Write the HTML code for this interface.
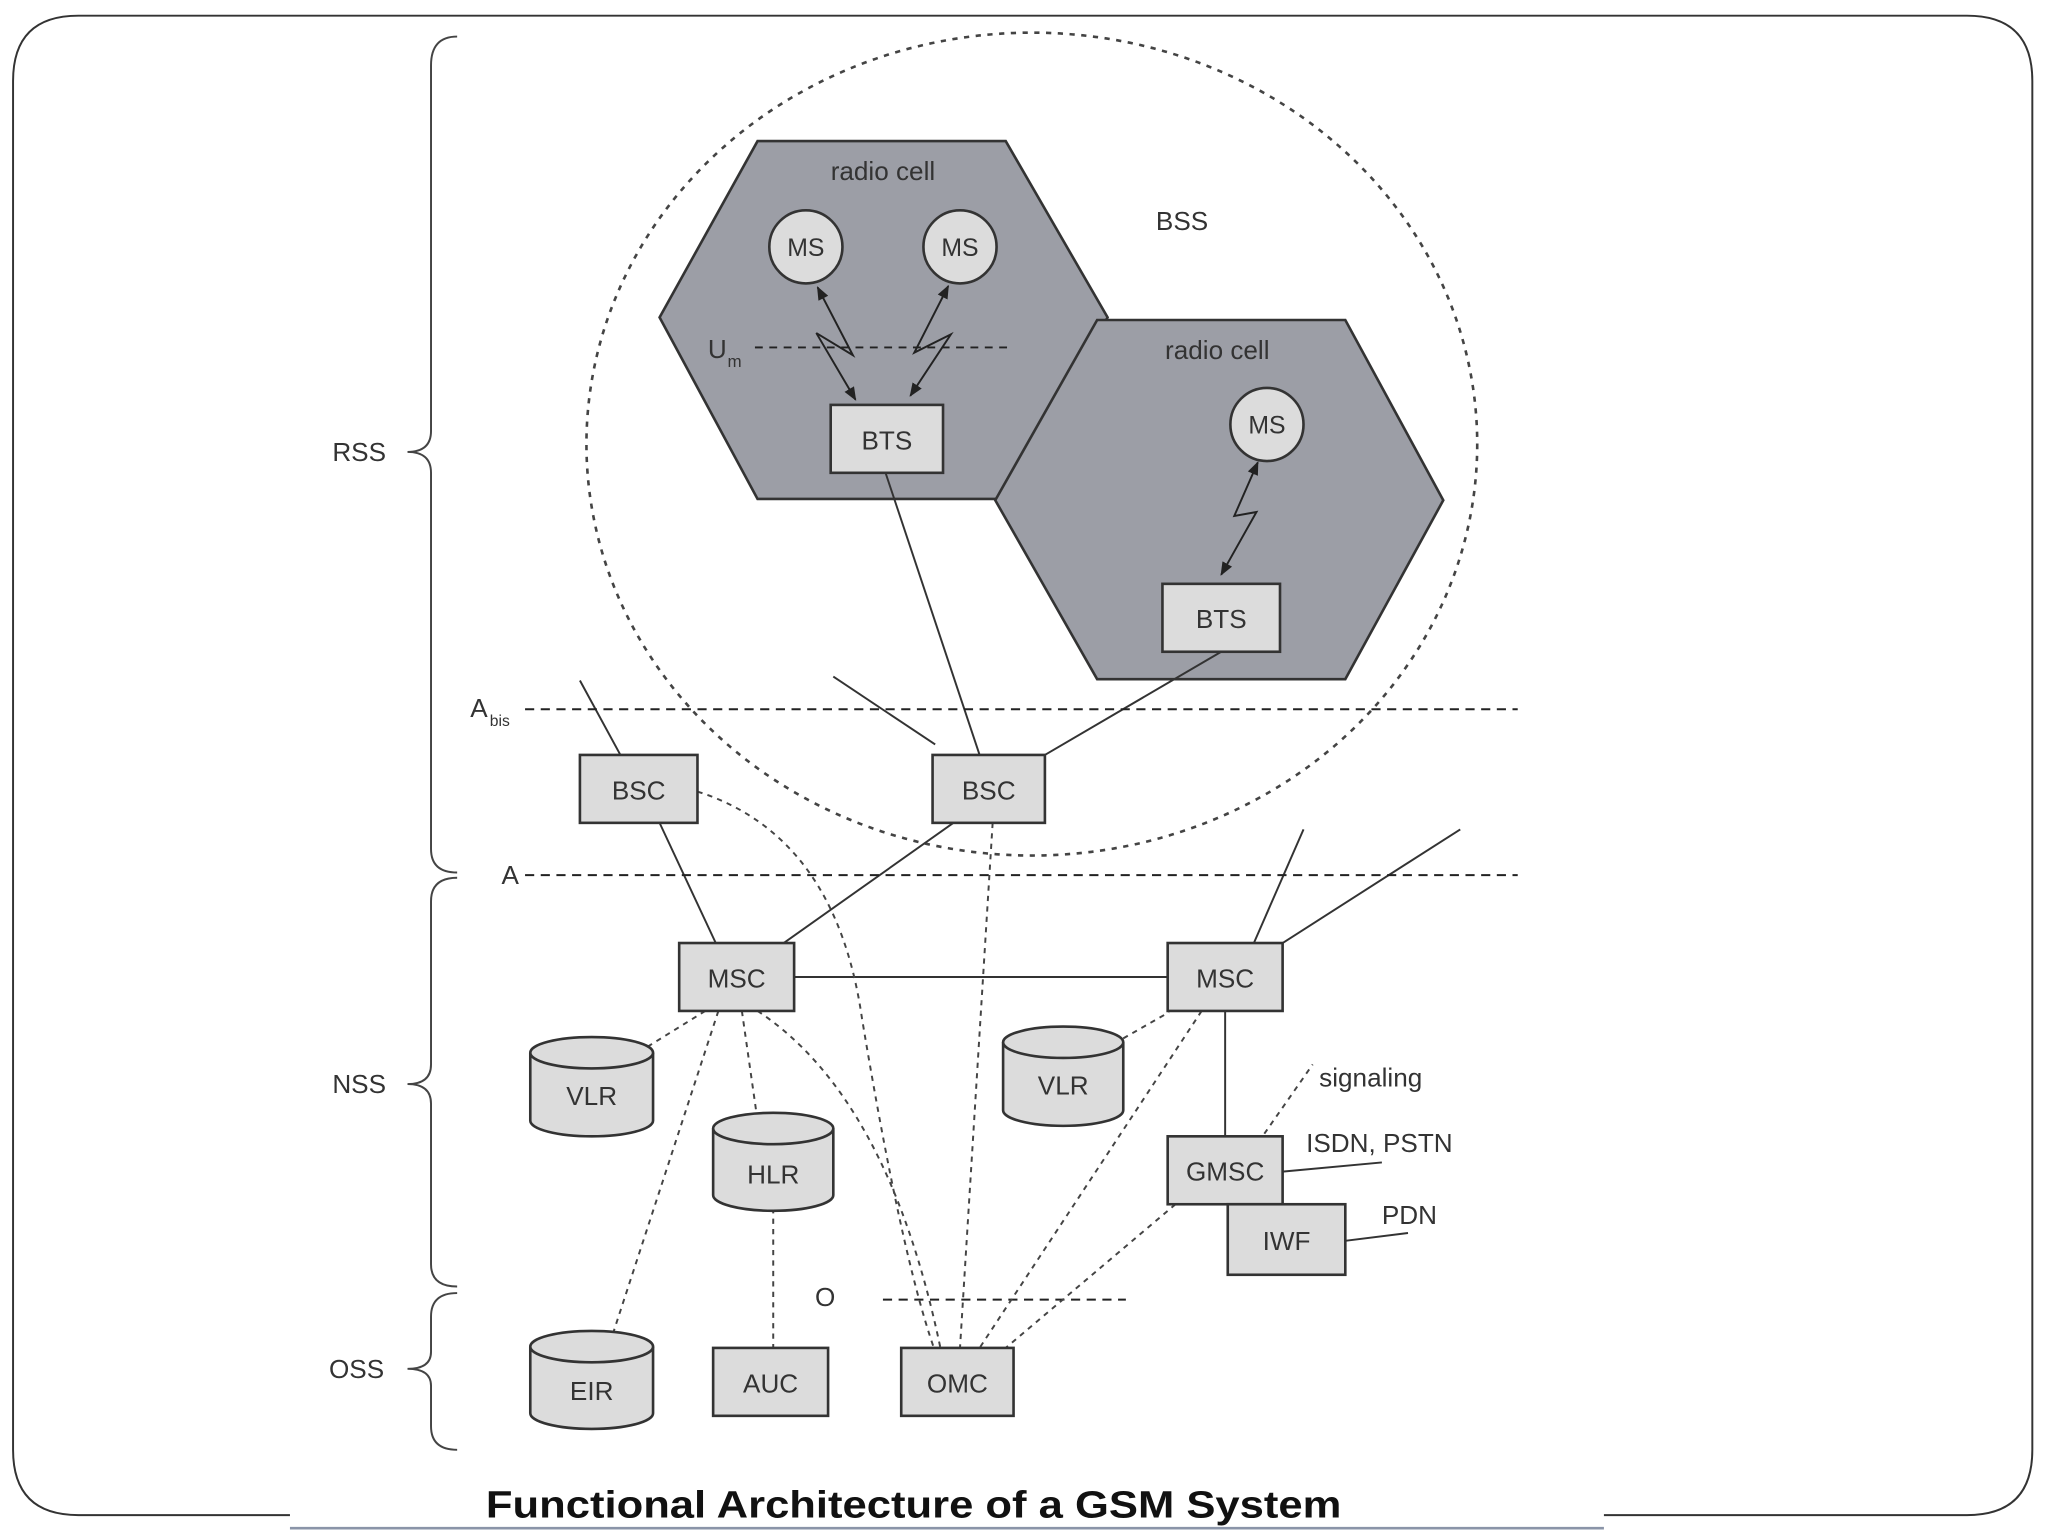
<!DOCTYPE html>
<html><head><meta charset="utf-8"><style>
html,body{margin:0;padding:0;background:#fff;width:2048px;height:1536px;overflow:hidden}
svg{display:block}
text{font-family:"Liberation Sans",sans-serif;fill:#333}
</style></head><body>
<svg width="2048" height="1536" viewBox="0 0 1568 1176" preserveAspectRatio="none" xmlns="http://www.w3.org/2000/svg">
<defs>
<marker id="ar" viewBox="0 0 10 10" refX="9" refY="5" markerWidth="7" markerHeight="7" orient="auto-start-reverse"><path d="M0,1 L10,5 L0,9 z" fill="#222"/></marker>
</defs>
<path d="M222,1160 L60,1160 Q10,1160 10,1110 L10,62 Q10,12 60,12 L1506,12 Q1556,12 1556,62 L1556,1110 Q1556,1160 1506,1160 L1228,1160" fill="none" stroke="#333" stroke-width="1.5"/>
<line x1="222" y1="1170" x2="1228" y2="1170" stroke="#8a94a8" stroke-width="2"/>
<text x="372" y="1162" font-size="29" font-weight="bold" textLength="655" lengthAdjust="spacingAndGlyphs" style="fill:#111">Functional Architecture of a GSM System</text>

<g fill="none" stroke="#444" stroke-width="1.5">
<path d="M350,28 Q330,28 330,50 L330,330 Q330,346 312,346 Q330,346 330,362 L330,650 Q330,668 350,668"/>
<path d="M350,672 Q330,672 330,690 L330,815 Q330,830 312,830 Q330,830 330,845 L330,968 Q330,985 350,985"/>
<path d="M350,990 Q330,990 330,1008 L330,1035 Q330,1048 312,1048 Q330,1048 330,1061 L330,1092 Q330,1110 350,1110"/>
</g>
<g font-size="20">
<text x="275" y="353" text-anchor="middle">RSS</text>
<text x="275" y="837" text-anchor="middle">NSS</text>
<text x="273" y="1055" text-anchor="middle">OSS</text>
</g>

<ellipse cx="790" cy="340" rx="341" ry="315" fill="none" stroke="#444" stroke-width="2" stroke-dasharray="4,5"/>

<polygon points="505,243 580,108 770,108 848,243 770,382 580,382" fill="#9c9ea6" stroke="#333" stroke-width="2"/>
<polygon points="762,383 840,245 1030,245 1105,383 1030,520 840,520" fill="#9c9ea6" stroke="#333" stroke-width="2"/>
<g font-size="20">
<text x="676" y="138" text-anchor="middle">radio cell</text>
<text x="932" y="275" text-anchor="middle">radio cell</text>
<text x="905" y="176" text-anchor="middle">BSS</text>
</g>

<g fill="#dcdcdc" stroke="#333" stroke-width="2">
<circle cx="617" cy="189" r="28"/>
<circle cx="735" cy="189" r="28"/>
<circle cx="970" cy="325" r="28"/>
</g>
<g font-size="19" text-anchor="middle">
<text x="617" y="196">MS</text>
<text x="735" y="196">MS</text>
<text x="970" y="332">MS</text>
</g>

<line x1="578" y1="266" x2="776" y2="266" stroke="#222" stroke-width="1.5" stroke-dasharray="6,5"/>
<text x="542" y="274" font-size="20">U</text><text x="557" y="281" font-size="13">m</text>

<g fill="none" stroke="#222" stroke-width="1.5">
<polyline points="626,220 653,272 625,255 655,306" marker-start="url(#ar)" marker-end="url(#ar)"/>
<polyline points="726,219 700,270 728,256 697,303" marker-start="url(#ar)" marker-end="url(#ar)"/>
<polyline points="963,354 945,395 962,392 935,440" marker-start="url(#ar)" marker-end="url(#ar)"/>
</g>

<g stroke="#333" stroke-width="1.5" fill="none">
<line x1="678" y1="362" x2="750" y2="578"/>
<line x1="935" y1="499" x2="800" y2="578"/>
<line x1="638" y1="518" x2="716" y2="570"/>
<line x1="444" y1="521" x2="475" y2="578"/>
<line x1="505" y1="630" x2="548" y2="722"/>
<line x1="730" y1="630" x2="600" y2="722"/>
<line x1="608" y1="748" x2="894" y2="748"/>
<line x1="960" y1="722" x2="998" y2="635"/>
<line x1="982" y1="722" x2="1118" y2="635"/>
<line x1="938" y1="774" x2="938" y2="870"/>
<line x1="982" y1="897" x2="1058" y2="890"/>
<line x1="1030" y1="950" x2="1078" y2="944"/>
</g>

<g stroke="#222" stroke-width="1.5" stroke-dasharray="7,5">
<line x1="402" y1="543" x2="1162" y2="543"/>
<line x1="402" y1="670" x2="1162" y2="670"/>
<line x1="676" y1="995" x2="862" y2="995"/>
</g>
<text x="360" y="549" font-size="20">A</text><text x="375" y="556" font-size="12">bis</text>
<text x="384" y="677" font-size="20">A</text>
<text x="624" y="1000" font-size="20">O</text>

<g stroke="#444" stroke-width="1.5" fill="none" stroke-dasharray="4,4">
<path d="M534,606 Q640,640 660,780 Q690,960 715,1032"/>
<path d="M580,774 Q680,840 720,1032"/>
<line x1="760" y1="630" x2="735" y2="1032"/>
<line x1="920" y1="774" x2="750" y2="1032"/>
<line x1="900" y1="922" x2="770" y2="1032"/>
<line x1="540" y1="774" x2="490" y2="805"/>
<line x1="550" y1="774" x2="468" y2="1025"/>
<line x1="568" y1="774" x2="580" y2="858"/>
<line x1="592" y1="925" x2="592" y2="1032"/>
<line x1="860" y1="795" x2="895" y2="775"/>
<line x1="968" y1="868" x2="1005" y2="815"/>
</g>
<g font-size="20">
<text x="1010" y="832">signaling</text>
<text x="1000" y="882">ISDN, PSTN</text>
<text x="1058" y="937">PDN</text>
</g>

<g fill="#dcdcdc" stroke="#333" stroke-width="2">
<rect x="636" y="310" width="86" height="52"/>
<rect x="890" y="447" width="90" height="52"/>
<rect x="444" y="578" width="90" height="52"/>
<rect x="714" y="578" width="86" height="52"/>
<rect x="520" y="722" width="88" height="52"/>
<rect x="894" y="722" width="88" height="52"/>
<rect x="894" y="870" width="88" height="52"/>
<rect x="940" y="922" width="90" height="54"/>
<rect x="546" y="1032" width="88" height="52"/>
<rect x="690" y="1032" width="86" height="52"/>
</g>
<g fill="#dcdcdc" stroke="#333" stroke-width="2">
<path d="M406,806 L406,858 A47,12 0 0 0 500,858 L500,806"/><ellipse cx="453" cy="806" rx="47" ry="12"/>
<path d="M768,798 L768,850 A46,12 0 0 0 860,850 L860,798"/><ellipse cx="814" cy="798" rx="46" ry="12"/>
<path d="M546,864 L546,915 A46,12 0 0 0 638,915 L638,864"/><ellipse cx="592" cy="864" rx="46" ry="12"/>
<path d="M406,1031 L406,1082 A47,12 0 0 0 500,1082 L500,1031"/><ellipse cx="453" cy="1031" rx="47" ry="12"/>
</g>
<g font-size="20" text-anchor="middle">
<text x="679" y="344">BTS</text>
<text x="935" y="481">BTS</text>
<text x="489" y="612">BSC</text>
<text x="757" y="612">BSC</text>
<text x="564" y="756">MSC</text>
<text x="938" y="756">MSC</text>
<text x="938" y="904">GMSC</text>
<text x="985" y="957">IWF</text>
<text x="590" y="1066">AUC</text>
<text x="733" y="1066">OMC</text>
<text x="453" y="846">VLR</text>
<text x="814" y="838">VLR</text>
<text x="592" y="906">HLR</text>
<text x="453" y="1072">EIR</text>
</g>
</svg>
</body></html>
